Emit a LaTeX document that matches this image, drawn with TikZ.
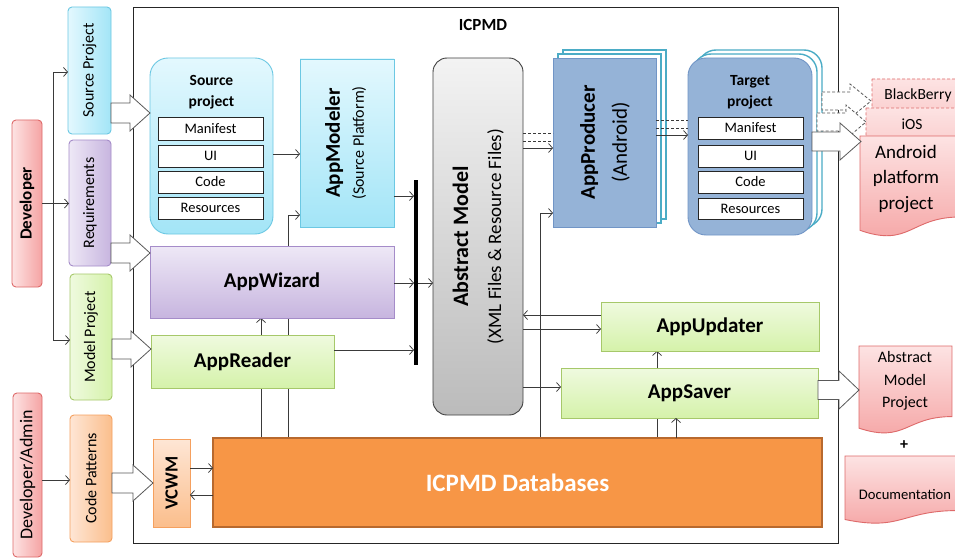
\documentclass[tikz,border=0pt]{standalone}
\usepackage{graphicx}
\usepackage{fontspec}
\setmainfont{Carlito}
\usetikzlibrary{arrows.meta,calc,backgrounds}
\definecolor{pinkT}{HTML}{FDE3E3}
\definecolor{pinkB}{HTML}{F5A3A3}
\definecolor{pinkD}{HTML}{DE6A6A}
\definecolor{cyanT}{HTML}{E3F8FE}
\definecolor{cyanB}{HTML}{A3E5F7}
\definecolor{cyanD}{HTML}{6CC8E3}
\definecolor{purT}{HTML}{EEE8F6}
\definecolor{purB}{HTML}{C7B5DF}
\definecolor{purD}{HTML}{A58CC9}
\definecolor{grnT}{HTML}{EFFADF}
\definecolor{grnB}{HTML}{D5F2AA}
\definecolor{grnD}{HTML}{A6C86A}
\definecolor{orT}{HTML}{FEE6D5}
\definecolor{orB}{HTML}{FBBE8C}
\definecolor{orD}{HTML}{F5A05E}
\definecolor{grayT}{HTML}{F3F3F3}
\definecolor{grayB}{HTML}{BBBBBB}
\definecolor{blueF}{HTML}{95B3D7}
\definecolor{blueD}{HTML}{7195C6}
\definecolor{pageD}{HTML}{4BACC6}
\definecolor{dbF}{HTML}{F79646}
\definecolor{dbD}{HTML}{B8692E}
\definecolor{lineC}{HTML}{3A3A3A}
\newcommand\fsz[2]{\fontsize{#1}{#2}\selectfont}
% block (hollow) arrow: [style]{start}{tip}{shaft half}{head half}{head length}
\newcommand\blockarr[6][]{%
  \path[#1] let \p1=#2, \p2=#3 in
    (\x1,\y1+#4) -- (\x2-#6,\y1+#4) -- (\x2-#6,\y1+#5) -- (\x2,\y1)
    -- (\x2-#6,\y1-#5) -- (\x2-#6,\y1-#4) -- (\x1,\y1-#4) -- cycle;}
% document shape: [style]{x}{y}{w}{h}
\newcommand\docpath[5][]{%
  \path[#1] (#2,#3) -- (#2+#4,#3) -- (#2+#4,#3+0.802*#5)
    .. controls (#2+0.5*#4,#3+0.802*#5) and (#2+0.5*#4,#3+1.1075*#5) .. (#2,#3+0.934*#5) -- cycle;}
\tikzset{
  box/.style={inner sep=0pt, outer sep=0pt, anchor=north west, align=center, line width=0.9pt},
  rbox/.style={box, rounded corners=4pt},
  inbox/.style={box, draw=black!85, fill=white, line width=0.8pt, minimum width=105pt, font=\fsz{14.5}{17}},
  appbox/.style={box, font=\fsz{21}{24}\bfseries},
  arr/.style={draw=lineC, line width=0.75pt, -{Straight Barb[length=4pt,width=9pt]}},
  ln/.style={draw=lineC, line width=0.75pt},
  dsh/.style={ln, dash pattern=on 3pt off 2pt},
  hollow/.style={draw=black!65, fill=white, line width=0.8pt, line join=miter},
  hollowd/.style={hollow, dash pattern=on 3pt off 2pt},
  docst/.style={draw=pinkD, top color=pinkT, bottom color=pinkB, line width=0.9pt},
  docd/.style={docst, dash pattern=on 3pt off 2pt},
}
\begin{document}
\begin{tikzpicture}[x=1pt,y=-1pt]
\useasboundingbox (0,0) rectangle (955,559);
\clip (0,0) rectangle (955,559);

% ICPMD frame
\node[box, draw=black!85, line width=0.8pt, minimum width=705pt, minimum height=536pt] (icpmd) at (133,7) {};
\node[font=\fsz{17}{20}\bfseries] (icpmdtitle) at (483,25) {ICPMD};

% left column
\node[rbox, draw=pinkD, left color=pinkT, right color=pinkB, minimum width=30pt, minimum height=167pt] (dev) at (12,120) {\rotatebox{90}{\fsz{17}{20}\bfseries Developer}};
\node[rbox, draw=pinkD, left color=pinkT, right color=pinkB, minimum width=29pt, minimum height=164pt] (devadm) at (13,393) {\rotatebox{90}{\fsz{18}{20}Developer/Admin}};
\node[rbox, draw=cyanD, left color=cyanT, right color=cyanB, minimum width=43pt, minimum height=127pt] (srcproj) at (68,7) {\rotatebox{90}{\fsz{16}{20}Source Project}};
\node[rbox, draw=purD, left color=purT, right color=purB, minimum width=42pt, minimum height=126pt] (req) at (69,140) {\rotatebox{90}{\fsz{16}{20}Requirements}};
\node[rbox, draw=grnD, left color=grnT, right color=grnB, minimum width=42pt, minimum height=126pt] (modproj) at (70,274) {\rotatebox{90}{\fsz{16}{20}Model Project}};
\node[rbox, draw=orD, left color=orT, right color=orB, minimum width=42pt, minimum height=127pt] (codepat) at (70,415) {\rotatebox{90}{\fsz{16}{20}Code Patterns}};

% source project
\node[box, rounded corners=18pt, draw=cyanD, top color=cyanT, bottom color=cyanB, minimum width=123pt, minimum height=176pt] (srcbox) at (150,58) {};
\node[font=\fsz{15.5}{21}\bfseries, align=center] (srctitle) at (211.5,92.5) {Source\\project};
\node[inbox, minimum height=23pt] (sm) at (158,117) {Manifest};
\node[inbox, minimum height=22pt] (su) at (158,145) {UI};
\node[inbox, minimum height=22pt] (sc) at (158,171) {Code};
\node[inbox, minimum height=22pt] (sr) at (158,197) {Resources};

% AppModeler
\node[box, draw=cyanD, top color=cyanT, bottom color=cyanB, minimum width=94pt, minimum height=168pt] (modeler) at (300,59)
  {\rotatebox{90}{\fsz{21}{24}\begin{tabular}{@{}c@{}}\bfseries AppModeler\\ \fsz{16}{20}(Source Platform)\end{tabular}}};

% AppWizard, AppReader
\node[appbox, draw=purD, top color=purT, bottom color=purB, minimum width=244pt, minimum height=72pt] (wizard) at (150,246) {AppWizard};
\node[appbox, draw=grnD, top color=grnT, bottom color=grnB, minimum width=183pt, minimum height=53pt] (reader) at (151,335) {AppReader};

% bar
\node[inner sep=0pt, outer sep=0pt, fill=black, minimum width=4pt, minimum height=185pt] (bar) at (416,272.5) {};

% Abstract model
\node[box, rounded corners=14pt, draw=black!75, top color=grayT, bottom color=grayB, minimum width=90pt, minimum height=357pt] (abs) at (433,58)
  {\rotatebox{90}{\fsz{22}{33}\begin{tabular}{@{}c@{}}\bfseries Abstract Model\\ \fsz{19}{22}(XML Files \& Resource Files)\end{tabular}}};

% AppProducer (stacked)
\node[box, draw=pageD, fill=white, line width=1.4pt, minimum width=103pt, minimum height=169pt] (pback2) at (563,50) {};
\node[box, draw=pageD, fill=white, line width=1.4pt, minimum width=103pt, minimum height=169pt] (pback1) at (558,54) {};
\node[box, draw=blueD, fill=blueF, minimum width=103pt, minimum height=169pt] (prod) at (553,58)
  {\rotatebox{90}{\fsz{21}{32}\begin{tabular}{@{}c@{}}\bfseries AppProducer\\ (Android)\end{tabular}}};

% Target project (stacked)
\node[box, rounded corners=18pt, draw=pageD, fill=white, line width=1.4pt, minimum width=124pt, minimum height=177pt] (tback2) at (698,50) {};
\node[box, rounded corners=18pt, draw=pageD, fill=white, line width=1.4pt, minimum width=124pt, minimum height=177pt] (tback1) at (693,54) {};
\node[box, rounded corners=18pt, draw=blueD, fill=blueF, minimum width=124pt, minimum height=177pt] (target) at (688,58) {};
\node[font=\fsz{15.5}{21}\bfseries, align=center] (tgttitle) at (750,92.5) {Target\\project};
\node[inbox, minimum height=22pt] (tm) at (698,117) {Manifest};
\node[inbox, minimum height=22pt] (tu) at (698,145) {UI};
\node[inbox, minimum height=22pt] (tc) at (698,171) {Code};
\node[inbox, minimum height=21pt] (tr) at (698,198) {Resources};

% AppUpdater, AppSaver
\node[appbox, draw=grnD, top color=grnT, bottom color=grnB, minimum width=218pt, minimum height=49pt] (updater) at (601,302) {AppUpdater};
\node[appbox, draw=grnD, top color=grnT, bottom color=grnB, minimum width=257pt, minimum height=50pt] (saver) at (561,368) {AppSaver};

% Databases, VCWM
\node[box, draw=dbD, fill=dbF, line width=2pt, minimum width=609pt, minimum height=89pt, text=white, font=\fsz{25}{28}\bfseries] (db) at (213,438) {ICPMD Databases};
\node[box, draw=orD, top color=orT, bottom color=orB, minimum width=37pt, minimum height=88pt] (vcwm) at (153,439) {\rotatebox{90}{\fsz{18.5}{20}\bfseries VCWM}};

% white page and connectors behind boxes
\begin{scope}[on background layer]
  \fill[white] (0,0) rectangle (955,559);
  \draw[arr] (db.north -| 288,0) |- (modeler.west |- 0,215);
  \draw[arr] (db.north -| 261,0) -- (wizard.south -| 261,0);
  \draw[arr] (db.north -| 657,0) -- (updater.south -| 657,0);
  \draw[arr] (db.north -| 540,0) |- (prod.west |- 0,213);
\end{scope}

% developer connectors
\coordinate (devsplit) at (53,203.5);
\draw[arr] (dev.east) -- (req.west |- dev.east);
\draw[arr] (devsplit) |- (srcproj.west |- 0,72);
\draw[arr] (devsplit) |- (modproj.west |- 0,340);
\draw[arr] (devadm.east |- 0,480) -- (codepat.west |- 0,480);

% internal connectors
\draw[arr] (srcbox.east |- 0,154) -- (modeler.west |- 0,154);
\draw[arr] (modeler.east |- 0,196) -- (bar.west |- 0,196);
\draw[arr] (wizard.east |- 0,283) -- (bar.west |- 0,283);
\draw[arr] (bar.east |- 0,283) -- (abs.west |- 0,283);
\draw[arr] (reader.east |- 0,350) -- (bar.west |- 0,350);
\draw[dsh] (abs.east |- 0,133) -- (prod.west |- 0,133);
\draw[dsh] (abs.east |- 0,141) -- (prod.west |- 0,141);
\draw[arr] (abs.east |- 0,148) -- (prod.west |- 0,148);
\draw[dsh] (prod.east |- 0,120) -- (target.west |- 0,120);
\draw[dsh] (prod.east |- 0,128) -- (target.west |- 0,128);
\draw[arr] (prod.east |- 0,135) -- (target.west |- 0,135);
\draw[arr] (updater.west |- 0,315) -- (abs.east |- 0,315);
\draw[arr] (abs.east |- 0,329) -- (updater.west |- 0,329);
\draw[arr] (abs.east |- 0,387) -- (saver.west |- 0,387);
\draw[arr] (db.north -| 676,0) -- (saver.south -| 676,0);
\draw[arr] (vcwm.east |- 0,468) -- (db.west |- 0,468);
\draw[arr] (db.west |- 0,495) -- (vcwm.east |- 0,495);

% block arrows (inputs)
\blockarr[hollow]{(srcproj.east |- 0,113)}{(srcbox.west |- 0,113)}{10pt}{18pt}{20pt}
\blockarr[hollow]{(req.east |- 0,253)}{(wizard.west |- 0,253)}{10pt}{18pt}{20pt}
\blockarr[hollow]{(modproj.east |- 0,349)}{(reader.west |- 0,349)}{10pt}{18pt}{20pt}
\blockarr[hollow]{(codepat.east |- 0,483)}{(vcwm.west |- 0,483)}{10pt}{18pt}{20pt}

% outputs
\docpath[docd]{872}{79}{100}{100}
\docpath[docd]{866}{108}{100}{100}
\docpath[docst]{860}{136}{100}{101}
\docpath[docst]{859}{346}{93}{88}
\docpath[docst]{845}{456}{113}{68}
\coordinate (bbin) at (871,101);
\coordinate (iosin) at (866,122);
\coordinate (andin) at (861,141.5);
\coordinate (ampin) at (859,390);
\blockarr[hollowd]{(tback2.east |- bbin)}{(bbin)}{9pt}{17pt}{21pt}
\blockarr[hollowd]{(tback1.east |- iosin)}{(iosin)}{9pt}{17pt}{20pt}
\blockarr[hollow]{(target.east |- andin)}{(andin)}{9.5pt}{18.5pt}{21pt}
\blockarr[hollow]{(saver.east |- ampin)}{(ampin)}{9.5pt}{19pt}{20pt}

\node[font=\fsz{15.5}{18}] (bbtxt) at (918,95) {BlackBerry};
\node[font=\fsz{15.5}{18}] (iostxt) at (912,124) {iOS};
\node[font=\fsz{19}{25.5}, align=center] (andtxt) at (906,179) {Android\\platform\\project};
\node[font=\fsz{16}{22.5}, align=center] (amptxt) at (905,381) {Abstract\\Model\\Project};
\node[font=\fsz{16}{18}\bfseries] (plus) at (904,445) {+};
\node[font=\fsz{14.6}{18}] (doctxt) at (905,495) {Documentation};
\end{tikzpicture}
\end{document}
